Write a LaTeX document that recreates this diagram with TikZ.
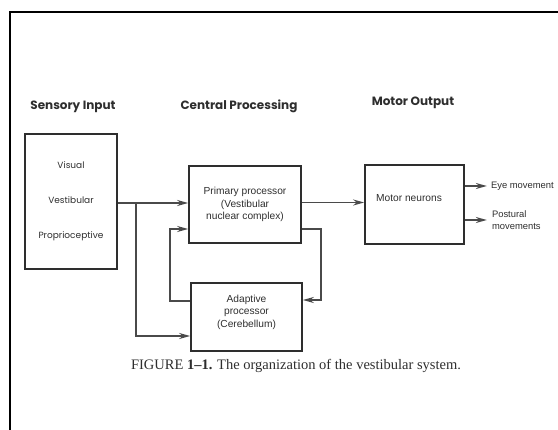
\documentclass[tikz,border=0pt]{standalone}
\usepackage{fontspec}
\setmainfont{Liberation Serif}
\newfontfamily\boxfont{Liberation Sans}
\newfontfamily\headfont{Poppins}
\usetikzlibrary{arrows.meta,calc}
\definecolor{ink}{HTML}{2E2E2E}
\definecolor{wire}{HTML}{4A4A4A}

\begin{document}
\begin{tikzpicture}[x=1pt,y=-1pt,
    heading/.style={font=\headfont\bfseries\fontsize{12}{14}\selectfont,text=ink},
    block/.style={draw=ink,line width=1.7pt,inner sep=0pt,align=center,
      font=\boxfont\fontsize{10.2}{12.5}\selectfont,text=ink},
    boxtext/.style={font=\boxfont\fontsize{10.2}{12.5}\selectfont,text=ink,align=left},
    outtext/.style={font=\boxfont\fontsize{9.4}{12}\selectfont,text=ink,align=left,
      anchor=west,inner sep=1pt},
    arr/.style={draw=wire,line width=1.6pt,-{Stealth[length=11pt,width=6pt]}}]
  \useasboundingbox (0,0) rectangle (558,430);

  % --- Marco ---
  \draw[black,line width=2.6pt] (10,440) -- (10,12) -- (570,12);

  % --- Titulos de columna ---
  \node[heading] (hin)  at (73,107)  {Sensory Input};
  \node[heading] (hcen) at (239,106) {Central Processing};
  \node[heading] (hout) at (413,103) {Motor Output};

  % --- Bloques ---
  \node[block,minimum width=92pt,minimum height=135pt,
    font=\headfont\fontsize{9}{35}\selectfont] (sensory) at (71,201.5)
    {Visual\\Vestibular\\Proprioceptive};
  \node[block,minimum width=112pt,minimum height=77pt] (primary) at (245,204.5)
    {Primary processor\\(Vestibular\\nuclear complex)};
  \node[block,minimum width=111pt,minimum height=68pt] (adaptive) at (246.5,317) {};
  \node[boxtext,align=center] (adlbl) at (246.5,312)
    {Adaptive\\processor\\(Cerebellum)};
  \node[block,minimum width=99pt,minimum height=79pt] (motor) at (414.5,204.5) {};
  \node[boxtext] (motlbl) at (409,198) {Motor neurons};

  % --- Conexiones ---
  \coordinate (split) at (136,203);
  \draw[arr] (sensory.east |- split) -- (primary.west |- split);
  \draw[arr] (split) |- ($(adaptive.west)+(0,19)$);
  \draw[arr] ($(adaptive.west)+(0,-16)$) -- ++(-20,0) |- ($(primary.west)+(0,24.5)$);
  \draw[arr] ($(primary.east)+(0,24.5)$) -- ++(19,0) |- ($(adaptive.east)+(0,-17)$);
  \draw[arr] ($(primary.east)+(0,-2)$) -- ($(motor.west)+(0,-2)$);

  % --- Salidas ---
  \draw[arr] ($(motor.east)+(0,-18.5)$) -- ++(22,0) coordinate (eyeend);
  \node[outtext] (eye) at ($(eyeend)+(3,0)$) {Eye movement};
  \draw[arr] ($(motor.east)+(0,15.5)$) -- ++(22,0) coordinate (posend);
  \node[outtext] (post) at ($(posend)+(4,0)$) {Postural\\movements};

  % --- Pie de figura ---
  \node[font=\fontsize{14.5}{17}\selectfont,text=ink] (cap) at (296,366)
    {FIGURE \textbf{1--1.} The organization of the vestibular system.};
\end{tikzpicture}
\end{document}
